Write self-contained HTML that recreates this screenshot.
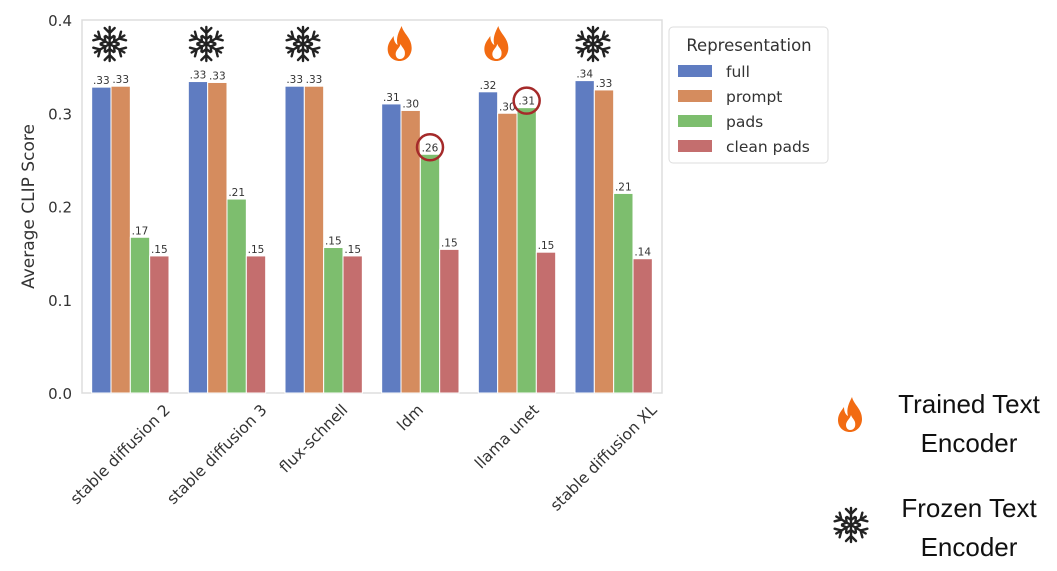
<!DOCTYPE html>
<html><head><meta charset="utf-8"><style>
body{margin:0;background:#fff;width:1057px;height:567px;overflow:hidden;font-family:"DejaVu Sans","Liberation Sans",sans-serif}
</style></head><body>
<svg id="chart" width="1057" height="567" xmlns="http://www.w3.org/2000/svg">
<defs>
<g id="flake">
 <g stroke="#222" stroke-width="2.4" stroke-linecap="round" fill="none">
  <g id="arm"><line x1="0" y1="0" x2="0" y2="-17"/><polyline points="-5,-16 0,-11 5,-16"/><polyline points="-4,-8 0,-5 4,-8"/></g>
  <use href="#arm" transform="rotate(60)"/><use href="#arm" transform="rotate(120)"/>
  <use href="#arm" transform="rotate(180)"/><use href="#arm" transform="rotate(240)"/><use href="#arm" transform="rotate(300)"/>
 </g>
</g>
<g id="flame">
 <path d="M2,-18 C4,-10 12,-6 12,4 C12,12 6,17 0,17 C-7,17 -12,12 -12,5 C-12,-1 -8,-5 -6,-8 C-6,-3 -4,0 -2,1 C-4,-6 -1,-12 2,-18 Z M0,15 C4,15 6,12 5,7 C4,4 2,3 1,0 C0,4 -4,6 -4,10 C-4,13 -2,15 0,15Z" fill="#f26b12" fill-rule="evenodd"/>
</g>
</defs>
</svg>
<script>
const categories=["stable diffusion 2","stable diffusion 3","flux-schnell","ldm","llama unet","stable diffusion XL"];
const seriesNames=["full","prompt","pads","clean pads"];
const fullVals=[0.328,0.334,0.329,0.310,0.323,0.335];
const promptVals=[0.329,0.333,0.329,0.303,0.300,0.325];
const padsVals=[0.167,0.208,0.156,0.256,0.306,0.214];
const cleanVals=[0.147,0.147,0.147,0.154,0.151,0.144];
const fullLabels=[".33",".33",".33",".31",".32",".34"];
const promptLabels=[".33",".33",".33",".30",".30",".33"];
const padsLabels=[".17",".21",".15",".26",".31",".21"];
const cleanLabels=[".15",".15",".15",".15",".15",".14"];
const encoderType=["frozen","frozen","frozen","trained","trained","frozen"];
const yTicks=[0,0.1,0.2,0.3,0.4];
const yTickLabels=["0.0","0.1","0.2","0.3","0.4"];

const NS="http://www.w3.org/2000/svg";
const svg=document.getElementById('chart');
const L=82,R=662,T=20,B=393;
const y=v=>B-(v/0.4)*(B-T);
const gw=(R-L)/categories.length;
const bw=gw*0.8/4;
const x=(i,s)=>L+gw*i+gw*0.1+bw*s;
const colors=["#5f7cc1","#d58c5e","#7dbe6e","#c46e6e"];
function mk(t,a,txt){const e=document.createElementNS(NS,t);for(const k in a)e.setAttribute(k,a[k]);if(txt!==undefined)e.textContent=txt;svg.appendChild(e);return e;}

const frame=mk('rect',{x:L,y:T,width:R-L,height:B-T,fill:'none',stroke:'#ddd','stroke-width':1.5});



yTicks.forEach((t,i)=>{
 const tl=mk('text',{x:L-10,y:y(t)+6,'text-anchor':'end','font-size':15,fill:'#333'},yTickLabels[i]);
 
 
});
const yt=mk('text',{x:34,y:(T+B)/2,'text-anchor':'middle','font-size':17,fill:'#333',transform:`rotate(-90 34 ${(T+B)/2})`},'Average CLIP Score');



const vals=[fullVals,promptVals,padsVals,cleanVals];
const labs=[fullLabels,promptLabels,padsLabels,cleanLabels];
categories.forEach((c,i)=>{
 vals.forEach((arr,s)=>{
  const r=mk('rect',{x:x(i,s),y:y(arr[i]),width:bw,height:B-y(arr[i]),fill:colors[s],stroke:'#fff','stroke-width':1});
  
  
  const t=mk('text',{x:x(i,s)+bw/2,y:y(arr[i])-3,'text-anchor':'middle','font-size':10.5,fill:'#333'},labs[s][i]);
  
  
 });
 const cx=L+gw*i+gw/2-10;
 const lbl=mk('text',{x:0,y:0,'text-anchor':'middle','font-size':15.5,fill:'#333'},c);
 const len=lbl.getComputedTextLength();
 const half=(len*0.7071+15*0.7071)/2;
 const cy=B+9+half;
 lbl.setAttribute('x',cx);
 lbl.setAttribute('y',cy+5);
 lbl.setAttribute('transform',`rotate(-45 ${cx} ${cy})`);
 
 
 const ic=mk('use',{href:encoderType[i]==='frozen'?'#flake':'#flame',x:x(i,0)+18,y:44});
 
 
});
[[3,2],[4,2]].forEach(([i,s])=>{
 const c=mk('circle',{cx:x(i,s)+bw/2,cy:y(vals[s][i])-7,r:13,fill:'none',stroke:'#a52a2a','stroke-width':2.5});
 
 
});
const lg=mk('rect',{x:669,y:27,width:159,height:136,rx:4,fill:'#fff',stroke:'#ddd'});


const lt=mk('text',{x:749,y:51,'text-anchor':'middle','font-size':16.5,fill:'#333'},'Representation');


seriesNames.forEach((n,s)=>{
 const yy=71+s*25;
 const sw=mk('rect',{x:678,y:yy-6,width:34,height:12,fill:colors[s]});
 
 
 const t=mk('text',{x:726,y:yy+6,'font-size':15.5,fill:'#333'},n);
 
 
});
const f1=mk('use',{href:'#flame',x:850,y:415});


const f2=mk('use',{href:'#flake',x:851,y:525});


[["Trained Text",969,413],["Encoder",969,452],["Frozen Text",969,517],["Encoder",969,556]].forEach(([t,xx,yy])=>{
 const e=mk('text',{x:xx,y:yy,'text-anchor':'middle','font-size':26,fill:'#111','font-family':'Liberation Sans, sans-serif'},t);
 
 
});
</script>
</body></html>
